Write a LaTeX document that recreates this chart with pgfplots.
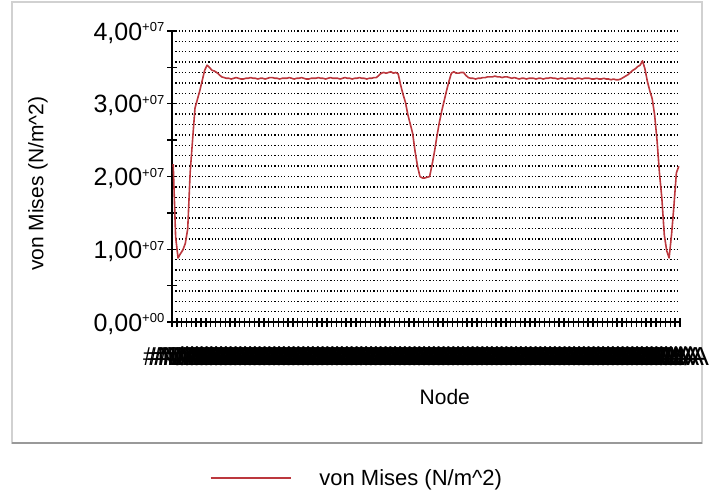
\documentclass[border=0pt]{standalone}
\usepackage{pgfplots}
\pgfplotsset{compat=1.18}
\usepackage{fontspec}
\setmainfont{Liberation Sans}
\definecolor{vmred}{RGB}{188,56,62}
\newcommand\supx[1]{\raisebox{8.2bp}{\fontsize{13bp}{13bp}\selectfont #1}}
\begin{document}
\begin{tikzpicture}
\draw[black!18, line width=1.5bp] (12bp,-2bp) rectangle (702bp,-443bp);
\draw[black!40, line width=2.5bp] (12bp,-443bp) -- (702bp,-443bp);
\begin{axis}[
  at={(172bp,-322bp)}, anchor=south west,
  width=508bp, height=291bp, scale only axis,
  xmin=0.5, xmax=210.5, ymin=0, ymax=4e7,
  scaled y ticks=false,
  axis x line*=bottom, axis y line*=left,
  axis line style={black, line width=1.3bp, -},
  tick align=center, major tick length=9bp, minor tick length=0pt,
  tick style={black, line width=1.4bp},
  xtick={0.5,2.5,...,210.5},
  xticklabel={\#N/A},
  xticklabel style={anchor=north, inner sep=0pt, font=\fontsize{26bp}{28bp}\selectfont, yshift=-20bp},
  ytick={0,1e7,2e7,3e7,4e7},
  yticklabels={{0,00\supx{+00}},{1,00\supx{+07}},{2,00\supx{+07}},{3,00\supx{+07}},{4,00\supx{+07}}},
  yticklabel style={anchor=base east, inner sep=0pt, yshift=-9bp, xshift=-3bp, font=\fontsize{25bp}{27bp}\selectfont},
  minor y tick num=6,
  ymajorgrids, yminorgrids,
  major grid style={black, line width=1.4bp, dash pattern=on 1.2bp off 2.1bp},
  minor grid style={black, line width=1.4bp, dash pattern=on 1.2bp off 2.1bp},
  extra y ticks={5e6,1.5e7,2.5e7,3.5e7},
  extra y tick labels={},
  extra y tick style={grid=none},
  xlabel={Node},
  xlabel style={at={(axis description cs:0.537,-0.258)}, anchor=center, font=\fontsize{21bp}{24bp}\selectfont},
  ylabel={von Mises (N/m\textasciicircum 2)},
  ylabel style={at={(axis description cs:-0.264,0.475)}, anchor=center, font=\fontsize{21bp}{24bp}\selectfont},
  legend style={at={(axis description cs:0.364,-0.536)}, anchor=center, draw=none, fill=none, font=\fontsize{22bp}{24bp}\selectfont},
  legend image code/.code={\draw[#1, line width=1.6bp] (0bp,0bp) -- (80bp,0bp);},
]
\addplot[vmred, line width=1.6bp, line join=round] table[row sep=\\] {
x y\\
1 2.17e7\\ 2 1.17e7\\ 3 0.88e7\\ 4 0.94e7\\ 5 0.99e7\\ 6 1.08e7\\ 7 1.28e7\\ 8 2.05e7\\ 9 2.50e7\\ 10 2.94e7\\
11 3.06e7\\ 12 3.18e7\\ 13 3.32e7\\ 14 3.46e7\\ 15 3.53e7\\ 16 3.50e7\\ 17 3.46e7\\ 18 3.45e7\\ 19 3.43e7\\ 20 3.40e7\\
21 3.37e7\\ 22 3.36e7\\ 23 3.35e7\\ 24 3.35e7\\ 25 3.34e7\\ 26 3.35e7\\ 27 3.36e7\\ 28 3.35e7\\ 29 3.34e7\\ 30 3.34e7\\
31 3.35e7\\ 32 3.35e7\\ 33 3.36e7\\ 34 3.35e7\\ 35 3.35e7\\ 36 3.34e7\\ 37 3.35e7\\ 38 3.35e7\\ 39 3.34e7\\ 40 3.35e7\\
41 3.36e7\\ 42 3.36e7\\ 43 3.35e7\\ 44 3.35e7\\ 45 3.34e7\\ 46 3.35e7\\ 47 3.35e7\\ 48 3.35e7\\ 49 3.36e7\\ 50 3.35e7\\
51 3.34e7\\ 52 3.35e7\\ 53 3.35e7\\ 54 3.36e7\\ 55 3.35e7\\ 56 3.34e7\\ 57 3.34e7\\ 58 3.35e7\\ 59 3.35e7\\ 60 3.35e7\\
61 3.36e7\\ 62 3.35e7\\ 63 3.35e7\\ 64 3.34e7\\ 65 3.35e7\\ 66 3.36e7\\ 67 3.35e7\\ 68 3.35e7\\ 69 3.35e7\\ 70 3.34e7\\
71 3.35e7\\ 72 3.36e7\\ 73 3.35e7\\ 74 3.35e7\\ 75 3.34e7\\ 76 3.35e7\\ 77 3.35e7\\ 78 3.36e7\\ 79 3.35e7\\ 80 3.35e7\\
81 3.34e7\\ 82 3.35e7\\ 83 3.35e7\\ 84 3.36e7\\ 85 3.36e7\\ 86 3.39e7\\ 87 3.42e7\\ 88 3.43e7\\ 89 3.42e7\\ 90 3.43e7\\
91 3.44e7\\ 92 3.42e7\\ 93 3.43e7\\ 94 3.41e7\\ 95 3.26e7\\ 96 3.13e7\\ 97 3.02e7\\ 98 2.85e7\\ 99 2.72e7\\ 100 2.59e7\\
101 2.34e7\\ 102 2.14e7\\ 103 2.00e7\\ 104 1.98e7\\ 105 1.98e7\\ 106 1.99e7\\ 107 2.00e7\\ 108 2.16e7\\ 109 2.34e7\\ 110 2.55e7\\
111 2.74e7\\ 112 2.90e7\\ 113 3.04e7\\ 114 3.18e7\\ 115 3.31e7\\ 116 3.42e7\\ 117 3.44e7\\ 118 3.42e7\\ 119 3.42e7\\ 120 3.43e7\\
121 3.43e7\\ 122 3.39e7\\ 123 3.36e7\\ 124 3.35e7\\ 125 3.35e7\\ 126 3.34e7\\ 127 3.35e7\\ 128 3.35e7\\ 129 3.36e7\\ 130 3.36e7\\
131 3.37e7\\ 132 3.37e7\\ 133 3.37e7\\ 134 3.38e7\\ 135 3.37e7\\ 136 3.37e7\\ 137 3.36e7\\ 138 3.37e7\\ 139 3.37e7\\ 140 3.36e7\\
141 3.35e7\\ 142 3.36e7\\ 143 3.35e7\\ 144 3.34e7\\ 145 3.35e7\\ 146 3.35e7\\ 147 3.34e7\\ 148 3.35e7\\ 149 3.35e7\\ 150 3.35e7\\
151 3.34e7\\ 152 3.35e7\\ 153 3.35e7\\ 154 3.34e7\\ 155 3.35e7\\ 156 3.35e7\\ 157 3.36e7\\ 158 3.35e7\\ 159 3.35e7\\ 160 3.34e7\\
161 3.35e7\\ 162 3.35e7\\ 163 3.34e7\\ 164 3.35e7\\ 165 3.35e7\\ 166 3.35e7\\ 167 3.34e7\\ 168 3.35e7\\ 169 3.35e7\\ 170 3.34e7\\
171 3.35e7\\ 172 3.35e7\\ 173 3.35e7\\ 174 3.34e7\\ 175 3.34e7\\ 176 3.35e7\\ 177 3.34e7\\ 178 3.34e7\\ 179 3.35e7\\ 180 3.34e7\\
181 3.34e7\\ 182 3.33e7\\ 183 3.34e7\\ 184 3.33e7\\ 185 3.33e7\\ 186 3.34e7\\ 187 3.36e7\\ 188 3.38e7\\ 189 3.40e7\\ 190 3.43e7\\
191 3.46e7\\ 192 3.48e7\\ 193 3.51e7\\ 194 3.53e7\\ 195 3.59e7\\ 196 3.48e7\\ 197 3.31e7\\ 198 3.18e7\\ 199 3.07e7\\ 200 2.85e7\\
201 2.50e7\\ 202 2.05e7\\ 203 1.70e7\\ 204 1.20e7\\ 205 0.98e7\\ 206 0.88e7\\ 207 1.20e7\\ 208 1.60e7\\ 209 2.05e7\\ 210 2.14e7\\
};
\addlegendentry{\hspace{26bp}von Mises (N/m\textasciicircum 2)}
\end{axis}
\pgfresetboundingbox
\path[use as bounding box] (0bp,0bp) rectangle (710bp,-500bp);
\end{tikzpicture}
\end{document}
